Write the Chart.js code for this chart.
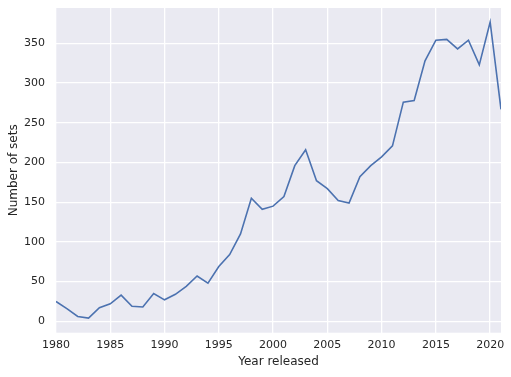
<!DOCTYPE html>
<html>
<head>
<meta charset="utf-8">
<script src="https://cdn.jsdelivr.net/npm/chart.js@4"></script>
<style>
  html, body { margin: 0; padding: 0; background: #ffffff; }
  canvas { display: block; }
</style>
</head>
<body>
<canvas id="setsChart" width="511" height="377"></canvas>
<script>
const years = [1980, 1981, 1982, 1983, 1984, 1985, 1986, 1987, 1988, 1989,
  1990, 1991, 1992, 1993, 1994, 1995, 1996, 1997, 1998, 1999,
  2000, 2001, 2002, 2003, 2004, 2005, 2006, 2007, 2008, 2009,
  2010, 2011, 2012, 2013, 2014, 2015, 2016, 2017, 2018, 2019,
  2020, 2021];
const setCounts = [25, 16, 6, 4, 17, 22, 33, 19, 18, 35,
  27, 34, 44, 57, 48, 69, 84, 110, 155, 141,
  145, 157, 196, 216, 177, 167, 152, 149, 182, 196,
  207, 221, 276, 278, 328, 354, 355, 343, 354, 323,
  377, 267];
const xTicks = [1980, 1985, 1990, 1995, 2000, 2005, 2010, 2015, 2020];
const yTicks = [0, 50, 100, 150, 200, 250, 300, 350];

const font = "'DejaVu Sans', sans-serif";
const textColor = '#262626';

// seaborn-style grey panel behind the plot area
const panelBg = {
    id: 'panelBg',
    beforeDraw(chart) {
        const a = chart.chartArea;
        const ctx = chart.ctx;
        ctx.save();
        ctx.fillStyle = '#EAEAF2';
        ctx.fillRect(a.left, a.top, a.right - a.left, a.bottom - a.top);
        ctx.restore();
    }
};

new Chart(document.getElementById('setsChart'), {
    type: 'line',
    data: {
        datasets: [{
            data: years.map((y, i) => ({ x: y, y: setCounts[i] })),
            borderColor: '#4C72B0',
            borderWidth: 1.6,
            pointRadius: 0,
            tension: 0,
            fill: false
        }]
    },
    options: {
        responsive: false,
        animation: false,
        layout: { padding: { top: 8, right: 10, left: 7, bottom: 8 } },
        plugins: { legend: { display: false }, tooltip: { enabled: false } },
        scales: {
            x: {
                type: 'linear',
                min: 1980,
                max: 2021,
                afterBuildTicks: s => { s.ticks = xTicks.map(v => ({ value: v })); },
                afterFit: s => { s.height = 36.3; s.paddingLeft = 0; s.paddingRight = 0; },
                grid: { color: '#ffffff', lineWidth: 1.3, drawTicks: false },
                border: { display: false },
                ticks: {
                    color: textColor, font: { family: font, size: 11 }, padding: 6,
                    maxRotation: 0, autoSkip: false, callback: v => String(v)
                },
                title: {
                    display: true, text: 'Year released', color: textColor,
                    font: { family: font, size: 12 }, padding: { top: 1, bottom: 0 }
                }
            },
            y: {
                type: 'linear',
                min: -14.4,
                max: 394.6,
                afterBuildTicks: s => { s.ticks = yTicks.map(v => ({ value: v })); },
                afterFit: s => { s.width = 49; s.paddingTop = 0; s.paddingBottom = 0; },
                grid: { color: '#ffffff', lineWidth: 1.3, drawTicks: false },
                border: { display: false },
                ticks: {
                    color: textColor, font: { family: font, size: 11 }, padding: 11,
                    callback: v => String(v)
                },
                title: {
                    display: true, text: 'Number of sets', color: textColor,
                    font: { family: font, size: 12 }, padding: { top: 0, bottom: 2 }
                }
            }
        }
    },
    plugins: [panelBg]
});
</script>
</body>
</html>
